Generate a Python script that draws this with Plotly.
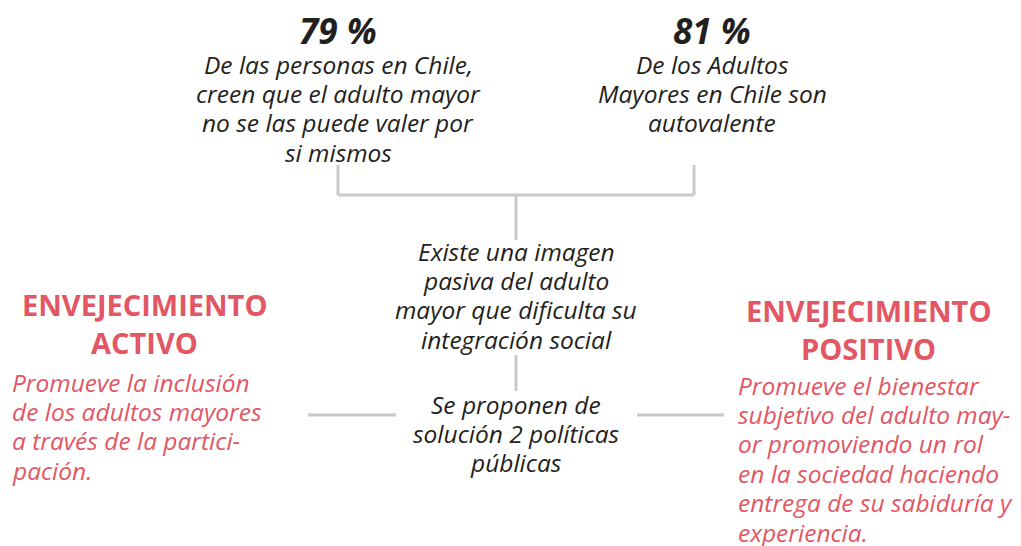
import plotly.graph_objects as go

# ---- content ----
stat_values = ["79 %", "81 %"]
stat_left_lines = ["De las personas en Chile,", "creen que el adulto mayor",
                   "no se las puede valer por", "si mismos"]
stat_right_lines = ["De los Adultos", "Mayores en Chile son", "autovalente"]
middle_lines = ["Existe una imagen", "pasiva del adulto",
                "mayor que dificulta su", "integración social"]
proposal_lines = ["Se proponen de", "solución 2 políticas", "públicas"]
left_title = ["ENVEJECIMIENTO", "ACTIVO"]
left_body = ["Promueve la inclusión", "de los adultos mayores",
             "a través de la partici-", "pación."]
right_title = ["ENVEJECIMIENTO", "POSITIVO"]
right_body = ["Promueve el bienestar", "subjetivo del adulto may-",
              "or promoviendo un rol", "en la sociedad haciendo",
              "entrega de su sabiduría y", "experiencia."]

# ---- style ----
W, H = 1021, 546
OFF = 8  # page body margin
DARK = "#231f20"
RED = "#e35663"
GREY = "#c9c9c9"
FONT = "Open Sans"
BODY = 24.5
LH = 29.4
TLH = 38

fig = go.Figure()
ann = []

def add_lines(lines, x, y0, color, size, anchor="center", weight="normal",
              style="italic", lh=LH):
    for i, t in enumerate(lines):
        ann.append(dict(x=x, y=y0 + i * lh, text=t,
                        showarrow=False, xanchor=anchor, yanchor="middle",
                        font=dict(family=FONT, size=size, color=color,
                                  weight=weight, style=style)))

# stats
for v, x in zip(stat_values, [338, 712]):
    ann.append(dict(x=x, y=30, text=v, showarrow=False, xanchor="center",
                    yanchor="middle", font=dict(family=FONT, size=35, color=DARK,
                                                weight="bold", style="italic")))
add_lines(stat_left_lines, 338, 64, DARK, BODY)
add_lines(stat_right_lines, 712, 64, DARK, BODY)
add_lines(middle_lines, 516, 251, DARK, BODY)
add_lines(proposal_lines, 516, 404, DARK, BODY)

# red titles
add_lines(left_title, 144, 304, RED, 29, weight="bold", style="normal", lh=TLH)
add_lines(right_title, 868, 310, RED, 29, weight="bold", style="normal", lh=TLH)
add_lines(left_body, 10, 382, RED, BODY, anchor="left")
add_lines(right_body, 736, 385, RED, BODY, anchor="left")

# connector lines
segments = [
    ((338, 165), (338, 195)),
    ((338, 195), (694, 195)),
    ((694, 165), (694, 195)),
    ((516, 195), (516, 240)),
    ((516, 355), (516, 391)),
    ((308, 415), (396, 415)),
    ((637, 415), (724, 415)),
]
shapes = [dict(type="line", x0=a[0], y0=a[1], x1=b[0], y1=b[1], xref="x", yref="y",
               line=dict(color=GREY, width=3)) for a, b in segments]

fig.update_layout(
    width=W, height=H, margin=dict(l=0, r=0, t=0, b=0),
    paper_bgcolor="white", plot_bgcolor="white",
    xaxis=dict(range=[OFF, W + OFF], visible=False, fixedrange=True),
    yaxis=dict(range=[H + OFF, OFF], visible=False, fixedrange=True),
    annotations=ann, shapes=shapes, showlegend=False,
)
fig.write_html("out.html")
